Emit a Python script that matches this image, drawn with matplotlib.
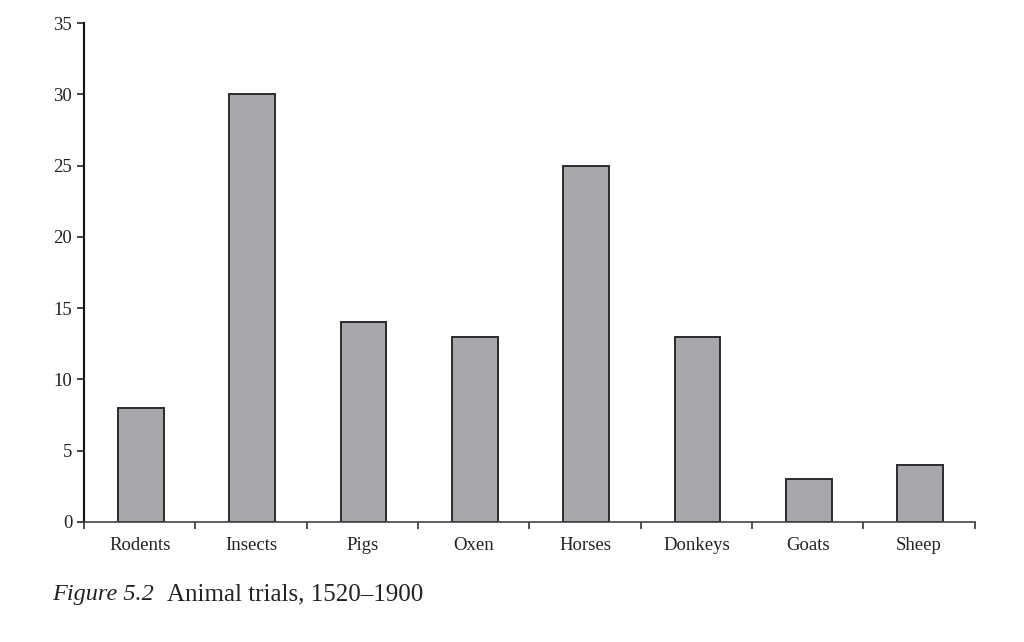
import matplotlib.pyplot as plt
import numpy as np

# animal trials, 1520-1900
animals = ["Rodents", "Insects", "Pigs", "Oxen", "Horses", "Donkeys", "Goats", "Sheep"]
trials = [8, 30, 14, 13, 25, 13, 3, 4]
y_ticks = [0, 5, 10, 15, 20, 25, 30, 35]

plt.rcParams['font.family'] = ['Liberation Serif', 'DejaVu Serif']

fig = plt.figure(figsize=(10.24, 6.42), dpi=100)
ax = fig.add_axes([0.082, 0.187, 0.870, 0.777])

x = np.arange(len(animals))
ax.bar(x + 0.01, trials, width=0.41, color="#a7a8ab", edgecolor="#2b2b2b", linewidth=1.4, zorder=2)

ax.set_xlim(-0.5, len(animals) - 0.5)
ax.set_ylim(0, 35)
ax.set_yticks(y_ticks)
ax.set_xticks(x)
ax.set_xticklabels(animals)
ax.set_xticks(np.arange(-0.5, len(animals), 1.0), minor=True)
ax.tick_params(axis="x", which="major", length=0, labelsize=13.5, pad=11, colors="#222222")
ax.tick_params(axis="x", which="minor", length=5, width=1.2, direction="out", color="#333333")
ax.tick_params(axis="y", length=5, width=1.2, direction="out", labelsize=13.5, colors="#222222")

for s in ["top", "right"]:
    ax.spines[s].set_visible(False)
ax.spines["left"].set_linewidth(1.5)
ax.spines["left"].set_color("#111111")
ax.spines["bottom"].set_linewidth(1.2)
ax.spines["bottom"].set_color("#444444")

fig.text(0.051, 0.065, "Figure 5.2", fontsize=17.5, style="italic", color="#222222")
fig.text(0.163, 0.065, "Animal trials, 1520\u20131900", fontsize=18, color="#222222")

fig.savefig("out.png", dpi=100)
